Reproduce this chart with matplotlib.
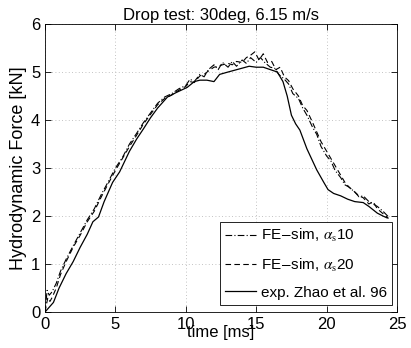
import matplotlib
matplotlib.use("Agg")
import matplotlib.pyplot as plt

plt.rcParams['font.family'] = ['Liberation Sans', 'DejaVu Sans']
plt.rcParams['mathtext.fontset'] = 'stix'

# experiment (solid)
t_exp = [0, 0.3, 0.6, 1.0, 1.5, 2.0, 2.5, 3.0, 3.4, 3.8, 4.2, 4.8, 5.3, 6.0, 6.5, 7.0, 7.5,
         8.0, 8.7, 9.3, 10.1, 10.6, 11.0, 11.5, 12.0, 12.4, 13.0, 13.5, 14.0, 14.5, 15.0,
         15.5, 16.0, 16.5, 16.9, 17.2, 17.5, 17.8, 18.1, 18.6, 19.3, 19.8, 20.1, 20.5,
         21.0, 21.5, 22.0, 22.6, 23.0, 23.6, 24.0, 24.3]
f_exp = [0, 0.1, 0.2, 0.5, 0.8, 1.05, 1.35, 1.62, 1.88, 1.98, 2.3, 2.7, 2.92, 3.35, 3.6,
         3.82, 4.05, 4.25, 4.48, 4.57, 4.68, 4.8, 4.83, 4.83, 4.8, 4.95, 5.0, 5.04, 5.08,
         5.12, 5.1, 5.1, 5.05, 5.0, 4.8, 4.5, 4.1, 3.92, 3.79, 3.4, 2.96, 2.7, 2.55, 2.47,
         2.42, 2.35, 2.3, 2.28, 2.2, 2.06, 2.0, 1.96]

# FE-sim alpha_s 10 (dash-dot)
t_s10 = [0, 0.15, 0.3, 0.5, 0.8, 1.1, 1.5, 2.0, 2.5, 3.0, 3.5, 4.0, 4.5, 5.0, 5.5, 6.0,
         6.5, 7.0, 7.5, 8.0, 8.5, 9.0, 9.5, 10.0, 10.3, 10.6, 11.0, 11.3, 11.6, 12.0,
         12.3, 12.6, 13.0, 13.3, 13.6, 14.0, 14.3, 14.6, 15.0, 15.3, 15.6, 16.0, 16.3,
         16.6, 17.0, 17.3, 17.6, 18.0, 18.3, 18.6, 19.0, 19.3, 19.6, 20.0, 20.3, 20.6,
         21.0, 21.3, 21.6, 22.0, 22.3, 22.6, 23.0, 23.3, 23.6, 24.0, 24.4]
f_s10 = [0, 0.45, 0.35, 0.42, 0.6, 0.85, 1.1, 1.38, 1.65, 1.92, 2.15, 2.45, 2.72, 3.0,
         3.22, 3.5, 3.72, 3.95, 4.15, 4.35, 4.48, 4.55, 4.65, 4.72, 4.85, 4.8, 4.95,
         4.9, 5.05, 5.15, 5.05, 5.2, 5.1, 5.22, 5.12, 5.25, 5.18, 5.3, 5.2, 5.3, 5.2,
         5.1, 5.08, 4.95, 4.85, 4.75, 4.55, 4.45, 4.25, 4.1, 3.85, 3.7, 3.45, 3.25,
         3.15, 2.95, 2.8, 2.65, 2.6, 2.5, 2.4, 2.42, 2.3, 2.25, 2.2, 2.1, 1.98]

# FE-sim alpha_s 20 (dashed)
t_s20 = [0, 0.2, 0.35, 0.5, 0.8, 1.1, 1.5, 2.0, 2.5, 3.0, 3.5, 4.0, 4.5, 5.0, 5.5, 6.0,
         6.5, 7.0, 7.5, 8.0, 8.5, 9.0, 9.5, 10.0, 10.3, 10.6, 11.0, 11.3, 11.6, 12.0,
         12.3, 12.6, 13.0, 13.3, 13.6, 14.0, 14.3, 14.6, 14.9, 15.2, 15.5, 15.8, 16.1,
         16.4, 16.7, 17.0, 17.3, 17.6, 18.0, 18.3, 18.6, 19.0, 19.3, 19.6, 20.0, 20.3,
         20.6, 21.0, 21.3, 21.6, 22.0, 22.3, 22.6, 23.0, 23.3, 23.6, 24.0, 24.4]
f_s20 = [0, 0.3, 0.22, 0.3, 0.5, 0.78, 1.05, 1.35, 1.6, 1.88, 2.1, 2.4, 2.68, 2.95,
         3.2, 3.45, 3.68, 3.92, 4.12, 4.32, 4.45, 4.52, 4.62, 4.7, 4.8, 4.78, 4.92,
         4.95, 5.02, 5.1, 5.12, 5.15, 5.18, 5.15, 5.22, 5.2, 5.3, 5.35, 5.42, 5.25,
         5.38, 5.2, 5.22, 5.05, 5.1, 4.9, 4.82, 4.65, 4.5, 4.3, 4.2, 3.95, 3.75, 3.55,
         3.35, 3.2, 3.05, 2.85, 2.7, 2.6, 2.5, 2.42, 2.38, 2.25, 2.3, 2.15, 2.05, 1.95]

labels = [r'FE$-$sim, $\alpha_{\rm s}$10', r'FE$-$sim, $\alpha_{\rm s}$20',
          'exp. Zhao et al. 96']
xticks = [0, 5, 10, 15, 20, 25]
yticks = [0, 1, 2, 3, 4, 5, 6]

fig = plt.figure(figsize=(4.11, 3.48), dpi=100)
ax = fig.add_axes([0.1095, 0.1034, 0.8565, 0.8276])

ax.plot(t_s10, f_s10, color='black', lw=0.8, linestyle=(0, (6, 2, 1, 2)), label=labels[0])
ax.plot(t_s20, f_s20, color='black', lw=0.8, linestyle=(0, (5, 3)), label=labels[1])
ax.plot(t_exp, f_exp, color='black', lw=0.9, linestyle='-', label=labels[2])

ax.set_xlim(0, 25)
ax.set_ylim(0, 6)
ax.set_xticks(xticks)
ax.set_yticks(yticks)
ax.tick_params(direction='in', labelsize=12, length=4, width=0.6, top=True, right=True)
ax.grid(True, linestyle=(0, (1, 3)), color='#b0b0b0', lw=0.6)
for s in ax.spines.values():
    s.set_linewidth(0.6)

ax.set_title('Drop test: 30deg, 6.15 m/s', fontsize=12, pad=3)
ax.set_xlabel('time [ms]', fontsize=12)
ax.xaxis.set_label_coords(0.5, -0.045)
ax.set_ylabel('Hydrodynamic Force [kN]', fontsize=13, labelpad=3)

leg = ax.legend(loc='lower right', bbox_to_anchor=(0.986, 0.024), borderaxespad=0,
                fontsize=11, fancybox=False, edgecolor='black', framealpha=1,
                handlelength=2.0, handletextpad=0.3, labelspacing=0.8, borderpad=0.35)
leg.get_frame().set_linewidth(0.6)

fig.savefig('out.png', dpi=100)
